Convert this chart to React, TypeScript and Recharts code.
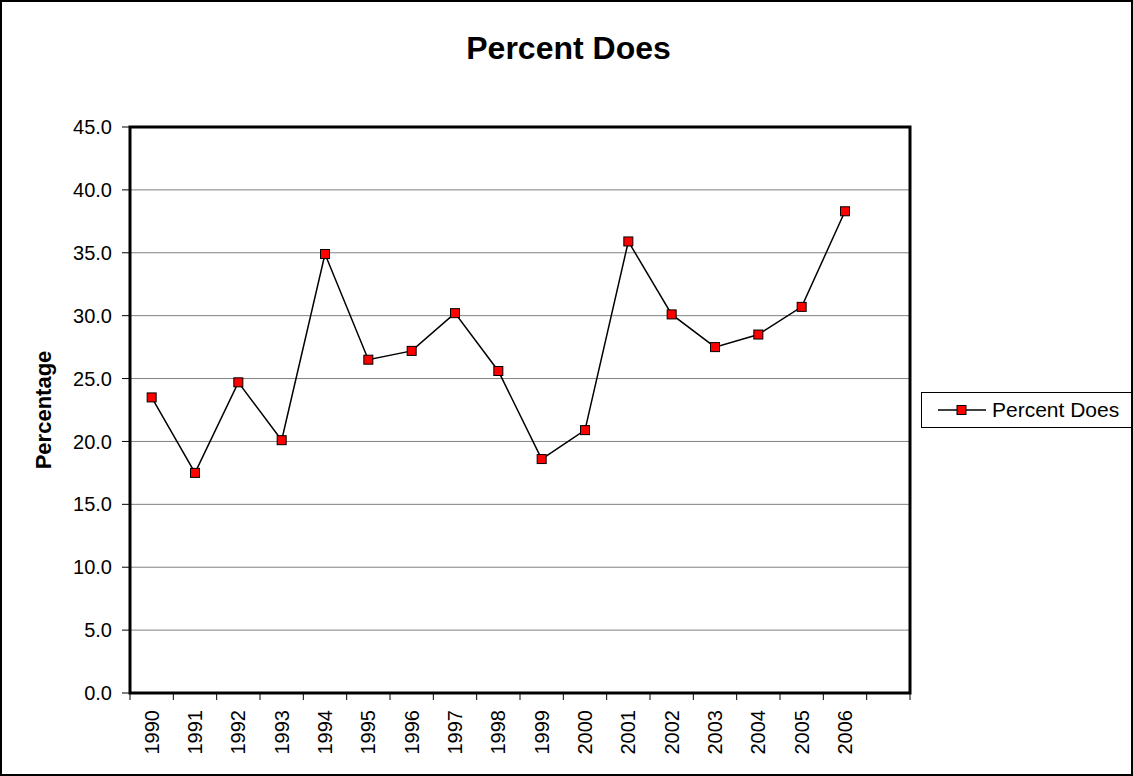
import React from "react";
import {
  LineChart,
  Line,
  XAxis,
  YAxis,
  CartesianGrid,
  ReferenceArea,
} from "recharts";

// chart data
const years = [
  "1990", "1991", "1992", "1993", "1994", "1995", "1996", "1997", "1998",
  "1999", "2000", "2001", "2002", "2003", "2004", "2005", "2006", "",
];
const percentDoes = [
  23.5, 17.5, 24.7, 20.1, 34.9, 26.5, 27.2, 30.2, 25.6,
  18.6, 20.9, 35.9, 30.1, 27.5, 28.5, 30.7, 38.3, null,
];
const yTicks = [0, 5, 10, 15, 20, 25, 30, 35, 40, 45];
const seriesName = "Percent Does";

const data = years.map((year, i) => ({ year, value: percentDoes[i] }));

const W = 1133;
const H = 776;
const PLOT_LEFT = 130;
const PLOT_RIGHT = 910;
const BAND = (PLOT_RIGHT - PLOT_LEFT) / years.length;
const FONT = "Arial, 'Liberation Sans', sans-serif";

// eslint-disable-next-line @typescript-eslint/no-explicit-any
const XTick = (props: any) => {
  const { x, y, payload, index } = props;
  const half = BAND / 2;
  const ty = y + 17;
  return (
    <g>
      <line x1={x - half} x2={x - half} y1={y} y2={y + 7} stroke="#000" />
      {index === years.length - 1 && (
        <line x1={x + half} x2={x + half} y1={y} y2={y + 7} stroke="#000" />
      )}
      <text
        x={x}
        y={ty}
        transform={`rotate(-90 ${x} ${ty})`}
        textAnchor="end"
        dy="0.35em"
        style={{ fontSize: 20, fontFamily: FONT }}
        fill="#000"
      >
        {payload.value}
      </text>
    </g>
  );
};

// eslint-disable-next-line @typescript-eslint/no-explicit-any
const SquareDot = (props: any) => {
  const { cx, cy, index } = props;
  if (cx == null || cy == null) return <g key={index} />;
  return (
    <rect
      key={index}
      x={cx - 4.5}
      y={cy - 4.5}
      width={9}
      height={9}
      fill="#FF0000"
      stroke="#000"
      strokeWidth={1}
    />
  );
};

const LegendBox = () => (
  <div
    style={{
      position: "absolute",
      left: 921,
      top: 392,
      display: "flex",
      alignItems: "center",
      height: 36,
      width: 240,
      border: "1px solid #000",
      background: "#fff",
      fontFamily: FONT,
      fontSize: 21,
      color: "#000",
      boxSizing: "border-box",
    }}
  >
    <svg width={70} height={20} style={{ flex: "none" }}>
      <line x1={16} x2={64} y1={10} y2={10} stroke="#000" strokeWidth={1.5} />
      <rect x={35} y={5.5} width={9} height={9} fill="#FF0000" stroke="#000" />
    </svg>
    <span>{seriesName}</span>
  </div>
);

export default function App() {
  return (
    <div
      style={{
        position: "absolute",
        left: 0,
        top: 0,
        width: W,
        height: H,
        overflow: "hidden",
        background: "#fff",
      }}
    >
      <LineChart
        width={W}
        height={H}
        data={data}
        margin={{ top: 127, right: W - PLOT_RIGHT, bottom: 0, left: 0 }}
      >
        <CartesianGrid vertical={false} stroke="#808080" />
        <XAxis
          dataKey="year"
          scale="band"
          interval={0}
          height={83}
          axisLine={false}
          tickLine={false}
          tickSize={0}
          tickMargin={0}
          tick={<XTick />}
        />
        <YAxis
          width={PLOT_LEFT}
          domain={[0, 45]}
          ticks={yTicks}
          interval={0}
          tickFormatter={(v: number) => v.toFixed(1)}
          axisLine={false}
          tickLine={{ stroke: "#000" }}
          tickSize={8}
          tickMargin={10}
          tick={{ fill: "#000", fontSize: 20, fontFamily: FONT }}
        />
        <ReferenceArea
          y1={0}
          y2={45}
          fill="none"
          stroke="#000"
          strokeWidth={3}
          ifOverflow="visible"
        />
        <Line
          type="linear"
          dataKey="value"
          name={seriesName}
          stroke="#000"
          strokeWidth={1.5}
          dot={<SquareDot />}
          activeDot={false}
          isAnimationActive={false}
        />
      </LineChart>
      <LegendBox />
      <div
        style={{
          position: "absolute",
          left: 2,
          top: 32,
          width: W,
          textAlign: "center",
          fontFamily: FONT,
          fontWeight: "bold",
          fontSize: 32,
          lineHeight: 1,
          color: "#000",
        }}
      >
        Percent Does
      </div>
      <div
        style={{
          position: "absolute",
          left: 44,
          top: 410,
          transform: "translate(-50%, -50%) rotate(-90deg)",
          fontFamily: FONT,
          fontWeight: "bold",
          fontSize: 22,
          whiteSpace: "nowrap",
          color: "#000",
        }}
      >
        Percentage
      </div>
      <div
        style={{
          position: "absolute",
          inset: 0,
          border: "2px solid #000",
          boxSizing: "border-box",
          pointerEvents: "none",
        }}
      />
    </div>
  );
}
